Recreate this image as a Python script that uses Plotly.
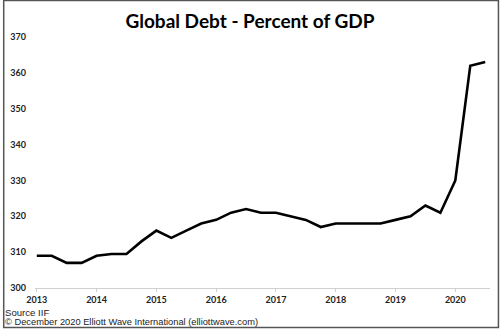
import plotly.graph_objects as go

years = [2013, 2014, 2015, 2016, 2017, 2018, 2019, 2020]
quarters_per_year = 4
debt_pct_gdp = [
    309, 309, 307, 307,
    309, 309.5, 309.5, 313,
    316, 314, 316, 318,
    319, 321, 322, 321,
    321, 320, 319, 317,
    318, 318, 318, 318,
    319, 320, 323, 321,
    330, 362, 363,
]
x_vals = [years[0] + i / quarters_per_year for i in range(len(debt_pct_gdp))]
y_ticks = [300, 310, 320, 330, 340, 350, 360, 370]

fig = go.Figure()
fig.add_trace(go.Scatter(x=x_vals, y=debt_pct_gdp, mode="lines",
                         line=dict(color="black", width=2.6), hoverinfo="skip"))

fig.update_layout(
    width=500, height=329,
    margin=dict(l=32, r=10, t=37, b=41),
    paper_bgcolor="white", plot_bgcolor="white",
    showlegend=False,
    title=dict(text="<b>Global Debt - Percent of GDP</b>", x=0.5, xanchor="center",
               y=0.935, yanchor="middle",
               font=dict(family="Lato", size=19, color="black")),
    xaxis=dict(range=[2012.97, 2020.58], tickvals=years, ticktext=[str(y) for y in years],
               showgrid=False, zeroline=False, showline=True, linecolor="#d0d0d0", linewidth=1,
               ticks="outside", ticklen=3, tickcolor="#d0d0d0",
               tickfont=dict(family="Lato", size=9, color="#222", weight="bold")),
    yaxis=dict(range=[300, 370], tickvals=y_ticks, showgrid=False, zeroline=False,
               showline=False, ticks="", ticklabelstandoff=8,
               tickfont=dict(family="Lato", size=9, color="#222", weight="bold")),
)

fig.add_annotation(text="Source IIF", xref="paper", yref="paper", x=-32/458, y=-24/251,
                   xanchor="left", yanchor="middle", showarrow=False,
                   font=dict(family="Liberation Sans", size=9.6, color="#222"))
fig.add_annotation(text="© December 2020 Elliott Wave International (elliottwave.com)",
                   xref="paper", yref="paper", x=-32/458, y=-34.5/251,
                   xanchor="left", yanchor="middle", showarrow=False,
                   font=dict(family="Liberation Sans", size=9.3, color="#222"))

fig.add_shape(type="rect", xref="paper", yref="paper",
              x0=-31.5/458, x1=(458 + 8.5)/458, y0=-(41 - 1.5)/251, y1=(251 + 36.5)/251,
              line=dict(color="#555", width=1.5), fillcolor="rgba(0,0,0,0)")

fig.write_html("out.html")
